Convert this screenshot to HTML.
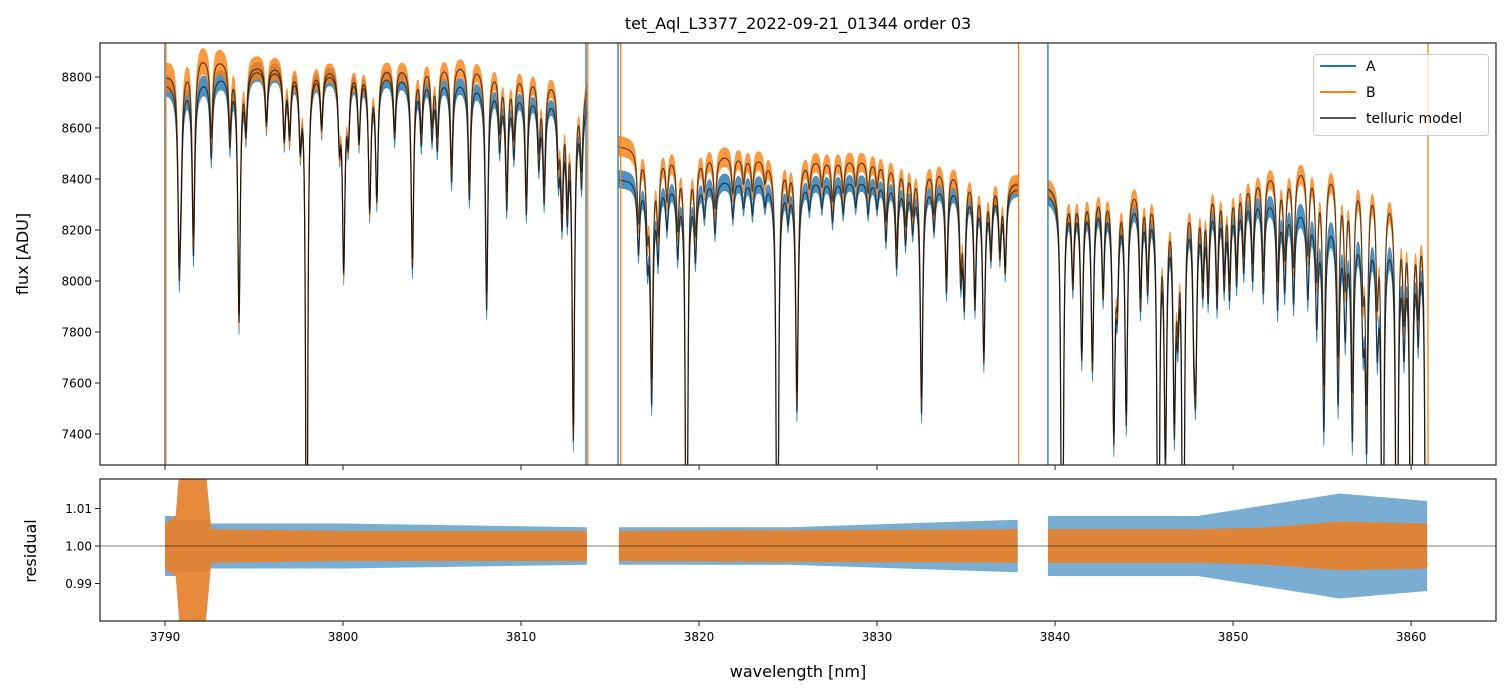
<!DOCTYPE html>
<html><head><meta charset="utf-8">
<style>
html,body{margin:0;padding:0;background:#fff;width:1510px;height:696px;overflow:hidden;}
svg{display:block;font-family:"DejaVu Sans","Liberation Sans",sans-serif;}
</style></head>
<body>
<svg id="chart" width="1510" height="696" xmlns="http://www.w3.org/2000/svg">
<rect width="1510" height="696" fill="#fff"/>
<text x="798" y="29" text-anchor="middle" font-size="16" fill="#000">tet_Aql_L3377_2022-09-21_01344  order 03</text>
<g id="topPanel"></g>
<g id="botPanel"></g>
<text x="0" y="0" transform="translate(28,254) rotate(-90)" text-anchor="middle" font-size="16">flux [ADU]</text>
<text x="0" y="0" transform="translate(36,551) rotate(-90)" text-anchor="middle" font-size="16">residual</text>
<text x="798" y="677" text-anchor="middle" font-size="16">wavelength [nm]</text>
<g id="legendGroup">
<rect x="1313.5" y="54.5" width="175" height="81" rx="3" fill="#fff" fill-opacity="0.8" stroke="#ccc"/>
<line x1="1320" y1="66" x2="1356" y2="66" stroke="#1f77b4" stroke-width="2"/>
<text x="1366" y="71" font-size="14">A</text>
<line x1="1320" y1="92" x2="1356" y2="92" stroke="#ff7f0e" stroke-width="2"/>
<text x="1366" y="97" font-size="14">B</text>
<line x1="1320" y1="118" x2="1356" y2="118" stroke="#555" stroke-width="2"/>
<text x="1366" y="123" font-size="14">telluric model</text>
</g>
</svg>
<script>
// ---- data ----
const segStart = [3790.0, 3815.5, 3839.6];
const segEnd = [3813.7, 3837.9, 3860.9];
const contWl = [3790, 3792, 3795, 3801, 3807, 3812, 3813.7, 3815.5, 3821, 3827, 3830, 3835, 3837.9, 3839.6, 3846, 3851, 3855, 3858, 3860.9];
const contA  = [8775, 8790, 8835, 8825, 8785, 8725, 8710, 8400, 8395, 8395, 8395, 8380, 8365, 8345, 8335, 8355, 8265, 8215, 8210];
const contB  = [8805, 8890, 8850, 8840, 8860, 8800, 8780, 8530, 8495, 8478, 8478, 8440, 8385, 8375, 8400, 8425, 8470, 8435, 8300];
const lineWl = [3790.8,3791.6,3794.16,3797.96,3800.04,3801.5,3801.9,3803.9,3806.1,3807.1,3808.07,3809.2,3810.3,3811.3,3812.3,3812.6,3812.94,
 3790.9,3792.6,3793.65,3794.55,3795.7,3796.7,3797.0,3797.6,3798.8,3799.8,3800.3,3800.9,3802.9,3804.4,3805.0,3805.3,3808.8,3809.6,3811.0,3812.1,3813.4,
 3816.6,3817.1,3817.34,3817.7,3818.8,3819.3,3819.8,3820.9,3821.9,3823.0,3824.4,3825.5,3827.5,3830.5,3831.1,3831.6,3832.5,3833.9,3834.7,3834.9,3835.5,3836.0,3836.9,3837.2,
 3818.2,3820.3,3822.5,3823.7,3825.0,3826.2,3826.9,3828.1,3828.8,3829.5,3830.0,3832.0,3833.2,3836.4,
 3840.4,3841.5,3842.1,3843.3,3844.0,3845.8,3846.2,3846.7,3847.2,3847.9,3855.1,3855.9,3856.7,3857.5,3858.4,3859.2,3860.0,3860.85,
 3841.0,3842.7,3843.5,3844.8,3845.2,3846.9,3847.8,3848.3,3848.6,3849.1,3849.5,3849.8,3850.2,3850.6,3851.1,3851.7,3852.5,3852.9,3853.4,3854.2,3854.7,3856.3,3857.3,3858.1,3859.6,3860.4];
const lineDepth = [0.076,0.077,0.11,0.3,0.085,0.06,0.055,0.085,0.045,0.052,0.1,0.052,0.054,0.046,0.05,0.045,0.15,
 0.03,0.035,0.03,0.025,0.025,0.03,0.028,0.03,0.025,0.028,0.026,0.03,0.028,0.028,0.025,0.03,0.026,0.028,0.03,0.03,0.035,
 0.033,0.032,0.1,0.033,0.032,0.3,0.034,0.024,0.017,0.015,0.3,0.107,0.019,0.027,0.039,0.027,0.107,0.05,0.04,0.052,0.055,0.08,0.03,0.038,
 0.02,0.015,0.012,0.01,0.015,0.012,0.012,0.015,0.012,0.015,0.012,0.02,0.02,0.03,
 0.3,0.075,0.08,0.11,0.105,0.3,0.12,0.1,0.3,0.075,0.1,0.085,0.1,0.1,0.3,0.3,0.3,0.3,
 0.04,0.045,0.04,0.05,0.04,0.045,0.05,0.04,0.045,0.05,0.04,0.045,0.04,0.035,0.04,0.045,0.05,0.04,0.045,0.04,0.05,0.05,0.045,0.05,0.05,0.045];
const noiseKnotWl = [3790, 3800, 3813.7, 3815.5, 3837.9, 3839.6, 3850, 3855, 3860.9];
const noiseA = [45, 38, 32, 38, 32, 38, 38, 55, 45];
const noiseB = [60, 38, 38, 42, 38, 38, 38, 42, 45];
const resWl = [3790, 3790.6, 3790.8, 3792.3, 3792.6, 3800, 3813.7, 3815.5, 3825, 3837.9, 3839.6, 3848, 3852, 3856, 3860.9];
const resA = [0.008, 0.008, 0.007, 0.007, 0.006, 0.006, 0.005, 0.005, 0.005, 0.007, 0.008, 0.008, 0.011, 0.014, 0.012];
const resB = [0.006, 0.008, 0.02, 0.02, 0.0045, 0.004, 0.004, 0.004, 0.0042, 0.0045, 0.0045, 0.0045, 0.005, 0.0065, 0.006];
const yTicksTop = [7400, 7600, 7800, 8000, 8200, 8400, 8600, 8800];
const yTicksBot = [0.99, 1.00, 1.01];
const xTicks = [3790, 3800, 3810, 3820, 3830, 3840, 3850, 3860];
const edgeA = [3790.0, 3813.65, 3815.45, 3839.6];
const edgeB = [3790.05, 3813.75, 3815.6, 3837.95, 3860.95];

(function () {
const L = 100, R = 1496, T1 = 43, B1 = 465, T2 = 479, B2 = 621;
const xmin = 3786.35, xmax = 3864.77;
const X = w => L + (w - xmin) / (xmax - xmin) * (R - L);
const y1min = 7278.4, y1max = 8933.3;
const clamp = (v, a, b) => Math.max(a, Math.min(b, v));
const Y1 = v => clamp(B1 - (v - y1min) / (y1max - y1min) * (B1 - T1), T1 - 2, B1 + 2);
const y2min = 0.98, y2max = 1.01787;
const Y2 = v => clamp(B2 - (v - y2min) / (y2max - y2min) * (B2 - T2), T2 - 2, B2 + 2);
const NS = 'http://www.w3.org/2000/svg';
function mk(tag, attrs, parent) { const e = document.createElementNS(NS, tag); for (const k in attrs) e.setAttribute(k, attrs[k]); parent.appendChild(e); return e; }
function interp(xs, ys, x) {
  if (x <= xs[0]) return ys[0];
  for (let i = 1; i < xs.length; i++) if (x <= xs[i]) { const t = (x - xs[i-1]) / (xs[i] - xs[i-1]); return ys[i-1] + t * (ys[i] - ys[i-1]); }
  return ys[ys.length - 1];
}
function trans(w) {
  let f = 1;
  for (let i = 0; i < lineWl.length; i++) {
    const g = lineDepth[i] >= 0.2 ? 0.06 : 0.085;
    const d = w - lineWl[i];
    if (Math.abs(d) > 2) continue;
    f *= 1 - lineDepth[i] * g * g / (d * d + g * g);
  }
  return f;
}
const gTop = document.getElementById('topPanel'), gBot = document.getElementById('botPanel');
const svg = document.getElementById('chart');
const legendG = document.getElementById('legendGroup');
const defs = mk('defs', {}, svg);
const c1 = mk('clipPath', {id: 'clip1'}, defs); mk('rect', {x: L, y: T1, width: R - L, height: B1 - T1}, c1);
const c2 = mk('clipPath', {id: 'clip2'}, defs); mk('rect', {x: L, y: T2, width: R - L, height: B2 - T2}, c2);
const g1 = mk('g', {'clip-path': 'url(#clip1)'}, gTop);
const g2 = mk('g', {'clip-path': 'url(#clip2)'}, gBot);

const step = 0.01;
const segNames = ['seg1', 'seg2', 'seg3'];
const modelA = [], modelB = [];
for (let s = 0; s < segStart.length; s++) {
  const ws = [];
  for (let w = segStart[s]; w <= segEnd[s] + 1e-9; w += step) ws.push(w);
  const tr = ws.map(trans);
  const mA = ws.map((w, i) => interp(contWl, contA, w) * tr[i]);
  const mB = ws.map((w, i) => interp(contWl, contB, w) * tr[i]);
  modelA.push([ws, mA]); modelB.push([ws, mB]);
  const band = (m, nz, col, name) => {
    let up = '', dn = '';
    ws.forEach((w, i) => { const a = interp(noiseKnotWl, nz, w) * (0.6 + 0.4 * tr[i]); up += (i ? 'L' : 'M') + X(w).toFixed(2) + ',' + Y1(m[i] + a).toFixed(2); });
    for (let i = ws.length - 1; i >= 0; i--) { const a = interp(noiseKnotWl, nz, ws[i]) * (0.6 + 0.4 * tr[i]) + (1 - tr[i]) * 400; dn += 'L' + X(ws[i]).toFixed(2) + ',' + Y1(m[i] - a * 0.3 - interp(noiseKnotWl, nz, ws[i]) * 0.5).toFixed(2); }
    const p = mk('path', {d: up + dn + 'Z', fill: col, 'fill-opacity': 0.8, stroke: col, 'stroke-width': 0.6, 'stroke-opacity': 0.8}, g1);
    
    
  };
  band(mA, noiseA, '#1f77b4', 'series-a-' + segNames[s]);
  band(mB, noiseB, '#ff7f0e', 'series-b-' + segNames[s]);
}
for (let s = 0; s < segStart.length; s++) {
  [modelA[s], modelB[s]].forEach((mm, k) => {
    let d = '';
    mm[0].forEach((w, i) => { d += (i ? 'L' : 'M') + X(w).toFixed(2) + ',' + Y1(mm[1][i]).toFixed(2); });
    const p = mk('path', {d: d, fill: 'none', stroke: '#000', 'stroke-opacity': 0.62, 'stroke-width': 1.2}, g1);
    
    
  });
}
edgeA.forEach(w => { const l = mk('line', {x1: X(w), x2: X(w), y1: T1, y2: B1, stroke: '#1f77b4', 'stroke-width': 1.3}, g1);
  
   });
edgeB.forEach(w => { const l = mk('line', {x1: X(w), x2: X(w), y1: T1, y2: B1, stroke: '#ff7f0e', 'stroke-width': 1.3}, g1);
  
   });

for (let s = 0; s < segStart.length; s++) {
  const ws = [];
  for (let w = segStart[s]; w <= segEnd[s] + 1e-9; w += 0.05) ws.push(w);
  const rb = (arr, col, op, name) => {
    let d = '';
    ws.forEach((w, i) => { d += (i ? 'L' : 'M') + X(w).toFixed(2) + ',' + Y2(1 + interp(resWl, arr, w)).toFixed(2); });
    for (let i = ws.length - 1; i >= 0; i--) d += 'L' + X(ws[i]).toFixed(2) + ',' + Y2(1 - interp(resWl, arr, ws[i])).toFixed(2);
    const p = mk('path', {d: d + 'Z', fill: col, 'fill-opacity': op}, g2);
    
    
  };
  rb(resA, '#1f77b4', 0.6, 'residual-a-' + segNames[s]);
  rb(resB, '#e6802a', 0.92, 'residual-b-' + segNames[s]);
}
const zl = mk('line', {x1: L, x2: R, y1: Y2(1), y2: Y2(1), stroke: '#000', 'stroke-opacity': 0.5, 'stroke-width': 1}, gBot);



[[T1, B1, gTop], [T2, B2, gBot]].forEach(([t, b, g]) => {
  const r = mk('rect', {x: L, y: t, width: R - L, height: b - t, fill: 'none', stroke: '#222', 'stroke-width': 1.2}, g);
  
  
  xTicks.forEach(v => { mk('line', {x1: X(v), x2: X(v), y1: b, y2: b + 5, stroke: '#222', 'stroke-width': 1}, g); });
});
xTicks.forEach(v => { const t = mk('text', {x: X(v), y: B2 + 20, 'text-anchor': 'middle', 'font-size': 12}, gBot); t.textContent = v;
  
   });
yTicksTop.forEach(v => { mk('line', {x1: L - 5, x2: L, y1: Y1(v), y2: Y1(v), stroke: '#222'}, gTop);
  const t = mk('text', {x: L - 8, y: Y1(v) + 4.5, 'text-anchor': 'end', 'font-size': 12}, gTop); t.textContent = v;
  
   });
yTicksBot.forEach(v => { mk('line', {x1: L - 5, x2: L, y1: Y2(v), y2: Y2(v), stroke: '#222'}, gBot);
  const t = mk('text', {x: L - 8, y: Y2(v) + 4.5, 'text-anchor': 'end', 'font-size': 12}, gBot); t.textContent = v.toFixed(2);
  
   });
svg.appendChild(legendG);
})();
</script>
</body></html>
